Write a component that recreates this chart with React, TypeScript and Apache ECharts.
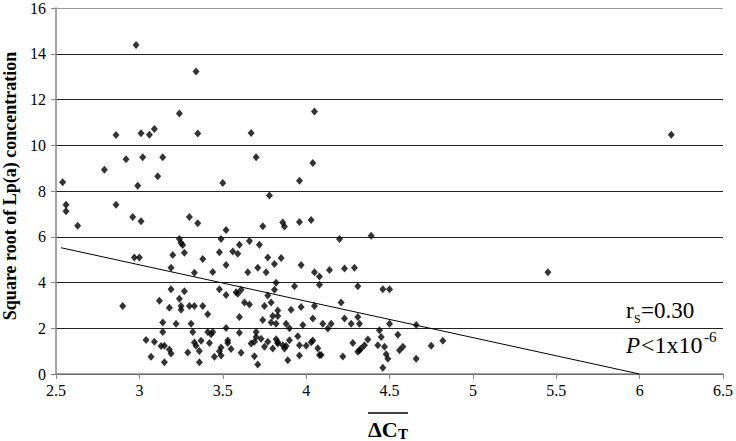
import React, { useEffect, useRef } from "react";
import * as echarts from "echarts";

// ΔCT values (x) and square root of Lp(a) concentration (y)
const ctValues: number[] = [
  2.98, 3.34, 3.24, 2.86, 3.01, 3.06, 3.09, 3.35, 3.67, 2.54, 2.79, 2.92, 3.02, 3.14, 3.11, 2.99, 3.50, 3.70, 3.78, 4.05,
  4.04, 3.96, 6.19, 5.45, 2.56, 2.56, 2.86, 2.63, 2.96, 3.01, 3.30, 3.35, 3.74, 3.52, 3.49, 3.24, 3.25, 3.26, 3.27, 3.20,
  3.38, 3.19, 3.33, 3.44, 3.48, 3.52, 3.56, 3.59, 3.60, 3.66, 3.72, 3.77, 3.81, 3.65, 3.71, 3.76, 3.82, 3.81, 3.77, 3.79,
  3.75, 3.83, 3.80, 3.82, 3.74, 3.73, 3.70, 3.70, 3.69, 3.67, 3.77, 3.75, 3.80, 3.82, 3.69, 3.71, 3.61, 3.60, 3.60, 3.55,
  3.53, 3.53, 3.49, 3.48, 3.49, 3.45, 3.42, 3.43, 3.41, 3.44, 3.52, 3.41, 3.38, 3.33, 3.30, 3.31, 3.32, 3.37, 3.33, 3.34,
  3.36, 3.36, 3.29, 3.25, 3.25, 3.24, 3.27, 3.19, 3.12, 3.18, 3.22, 3.14, 3.14, 3.04, 3.09, 3.13, 3.15, 3.18, 3.19, 3.07,
  3.15, 2.90, 2.97, 3.00, 3.61, 3.58, 3.59, 3.52, 3.48, 3.63, 3.66, 3.86, 3.87, 3.96, 4.03, 4.20, 4.39, 3.85, 3.97, 4.05,
  4.08, 4.14, 4.23, 4.29, 4.08, 3.93, 4.31, 4.46, 4.50, 4.21, 4.05, 3.97, 3.91, 3.83, 4.04, 4.23, 4.31, 4.32, 4.27, 4.15,
  4.10, 4.13, 3.98, 3.88, 3.90, 3.79, 3.95, 3.90, 3.83, 3.83, 3.86, 3.87, 3.88, 3.96, 4.00, 4.03, 4.04, 4.07, 4.08, 4.09,
  3.96, 3.89, 4.22, 4.28, 4.31, 4.32, 4.33, 4.35, 4.37, 4.44, 4.45, 4.43, 4.47, 4.48, 4.49, 4.46, 4.55, 4.56, 4.58, 4.66,
  4.66, 4.75, 4.82, 4.50,
];
const lpaValues: number[] = [
  14.38, 13.22, 11.39, 10.45, 10.52, 10.46, 10.71, 10.51, 10.54, 8.38, 8.93, 9.39, 9.48, 9.48, 8.65, 8.23, 8.35, 9.48, 7.80, 11.48,
  9.22, 8.45, 10.46, 4.45, 7.40, 7.12, 7.40, 6.48, 6.86, 6.68, 6.86, 6.59, 6.46, 6.30, 5.90, 5.90, 5.73, 5.64, 5.30, 5.20,
  5.03, 4.65, 4.43, 4.46, 5.32, 4.77, 5.35, 5.26, 5.65, 5.81, 5.65, 5.09, 4.81, 4.45, 4.64, 4.45, 3.99, 3.68, 3.43, 3.13,
  2.97, 2.78, 2.54, 2.20, 2.36, 1.54, 1.84, 1.62, 1.41, 1.33, 1.41, 1.19, 1.12, 1.52, 0.78, 0.42, 0.93, 2.49, 1.80, 1.09,
  1.46, 1.36, 1.16, 1.00, 0.81, 0.75, 1.36, 1.74, 1.84, 1.84, 2.01, 2.61, 2.97, 2.97, 2.97, 2.20, 1.84, 1.45, 1.38, 1.23,
  1.01, 0.51, 0.94, 2.97, 2.81, 3.29, 3.62, 3.71, 3.20, 2.90, 2.20, 2.25, 1.84, 1.49, 1.41, 1.22, 1.23, 1.07, 0.90, 0.75,
  0.51, 2.97, 5.09, 5.09, 3.68, 3.57, 3.51, 3.45, 3.71, 3.13, 3.04, 6.62, 6.45, 6.65, 6.73, 5.90, 6.04, 5.07, 4.77, 4.45,
  4.26, 4.55, 4.61, 4.65, 3.90, 3.84, 3.84, 3.71, 3.71, 3.13, 2.97, 2.93, 2.81, 2.54, 2.43, 2.43, 2.49, 2.20, 2.20, 2.20,
  2.20, 1.99, 2.14, 2.20, 2.00, 2.25, 1.65, 1.48, 1.33, 1.40, 1.26, 1.12, 1.22, 1.26, 1.23, 1.39, 1.46, 1.13, 0.83, 0.83,
  0.81, 0.60, 0.77, 1.36, 0.97, 1.04, 1.12, 1.26, 1.51, 1.91, 1.62, 1.26, 1.19, 0.86, 0.67, 0.27, 1.72, 1.04, 1.19, 2.14,
  0.67, 1.23, 1.45, 2.20,
];

// Linear trend line end points (clipped at y = 0)
const trendX: number[] = [2.53, 6.0];
const trendY: number[] = [5.52, 0];

const xTicks = { min: 2.5, max: 6.5, interval: 0.5 };
const yTicks = { min: 0, max: 16, interval: 2 };

const yAxisTitle = "Square root of Lp(a) concentration";
const rsLabel = ["r", "S", "=0.30"];
const pLabel = ["P", "<1x10", "-6"];

const SERIF = "Liberation Serif";

export default function App() {
  const ref = useRef<HTMLDivElement>(null);

  useEffect(() => {
    if (!ref.current) return;
    const chart = echarts.init(ref.current, undefined, { renderer: "svg" });
    const points = ctValues.map((x, i) => [x, lpaValues[i]]);
    const trend = trendX.map((x, i) => [x, trendY[i]]);
    const gridColors = ["#222", "#222", "#222", "#222", "#222", "#222", "#222", "#222", "#999"];

    chart.setOption({
      animation: false,
      backgroundColor: "#fff",
      textStyle: { fontFamily: SERIF },
      grid: { left: 56, right: 10, top: 6, bottom: 67, containLabel: false },
      xAxis: {
        type: "value",
        min: xTicks.min,
        max: xTicks.max,
        interval: xTicks.interval,
        axisLine: { show: true, onZero: false, lineStyle: { color: "#868686", width: 1.5 } },
        axisTick: { show: true, length: 5, lineStyle: { color: "#868686" } },
        axisLabel: {
          color: "#000",
          fontFamily: SERIF,
          fontSize: 16,
          margin: 8,
          formatter: (v: number) => String(v),
        },
        splitLine: { show: false },
      },
      yAxis: {
        type: "value",
        min: yTicks.min,
        max: yTicks.max,
        interval: yTicks.interval,
        axisLine: { show: true, lineStyle: { color: "#868686", width: 1.5 } },
        axisTick: { show: true, length: 5, lineStyle: { color: "#868686" } },
        axisLabel: { color: "#000", fontFamily: SERIF, fontSize: 16, margin: 10 },
        splitLine: { show: true, lineStyle: { color: gridColors, width: 1 } },
      },
      series: [
        {
          type: "scatter",
          data: points,
          symbol: "diamond",
          symbolSize: [7, 8],
          itemStyle: { color: "#000" },
          z: 3,
        },
        {
          type: "line",
          data: trend,
          symbol: "none",
          lineStyle: { color: "#000", width: 1 },
          z: 2,
        },
      ],
      graphic: [
        {
          type: "text",
          x: 10,
          y: 186,
          rotation: Math.PI / 2,
          style: {
            text: yAxisTitle,
            fontFamily: SERIF,
            fontWeight: "bold",
            fontSize: 18,
            fill: "#000",
            textAlign: "center",
            textVerticalAlign: "middle",
          },
        },
        // x-axis title: overlined ΔC with subscript T
        {
          type: "line",
          shape: { x1: 368, y1: 413, x2: 408, y2: 413 },
          style: { stroke: "#000", lineWidth: 1.5 },
        },
        {
          type: "text",
          x: 368,
          y: 429,
          style: {
            text: "ΔC",
            fontFamily: SERIF,
            fontWeight: "bold",
            fontSize: 22,
            fill: "#000",
            textAlign: "left",
            textVerticalAlign: "middle",
          },
        },
        {
          type: "text",
          x: 398,
          y: 434,
          style: {
            text: "T",
            fontFamily: SERIF,
            fontWeight: "bold",
            fontSize: 15,
            fill: "#000",
            textAlign: "left",
            textVerticalAlign: "middle",
          },
        },
        // r_S = 0.30
        {
          type: "text",
          x: 626,
          y: 310,
          style: { text: rsLabel[0], fontFamily: SERIF, fontSize: 23, fill: "#000", textAlign: "left", textVerticalAlign: "middle" },
        },
        {
          type: "text",
          x: 634,
          y: 319,
          style: { text: rsLabel[1], fontFamily: SERIF, fontSize: 12, fill: "#000", textAlign: "left", textVerticalAlign: "middle" },
        },
        {
          type: "text",
          x: 641,
          y: 310,
          style: { text: rsLabel[2], fontFamily: SERIF, fontSize: 23, fill: "#000", textAlign: "left", textVerticalAlign: "middle" },
        },
        // P < 1x10^-6
        {
          type: "text",
          x: 626,
          y: 345,
          style: { text: pLabel[0], fontFamily: SERIF, fontStyle: "italic", fontSize: 23, fill: "#000", textAlign: "left", textVerticalAlign: "middle" },
        },
        {
          type: "text",
          x: 641,
          y: 345,
          style: { text: pLabel[1], fontFamily: SERIF, fontSize: 24, fill: "#000", textAlign: "left", textVerticalAlign: "middle" },
        },
        {
          type: "text",
          x: 704,
          y: 337,
          style: { text: pLabel[2], fontFamily: SERIF, fontSize: 15, fill: "#000", textAlign: "left", textVerticalAlign: "middle" },
        },
      ],
    });

    return () => chart.dispose();
  }, []);

  return (
    <div
      ref={ref}
      style={{ position: "fixed", left: 0, top: 0, width: 736, height: 441, background: "#fff" }}
    />
  );
}
